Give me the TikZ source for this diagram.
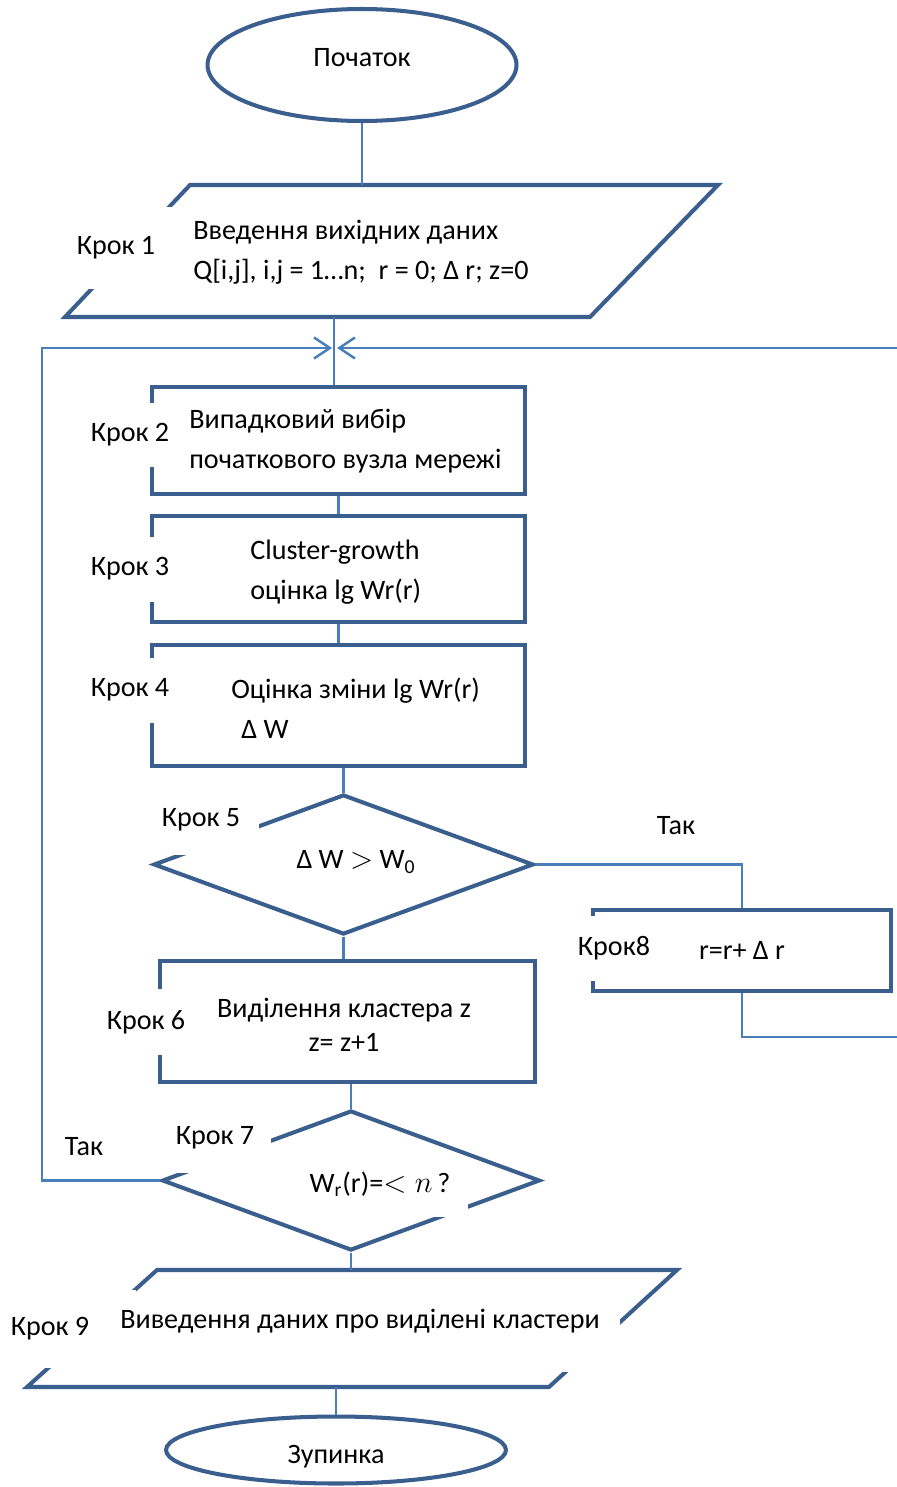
\documentclass[tikz,border=0pt]{standalone}
\usepackage{fontspec}
\setmainfont{Carlito}
\usetikzlibrary{shapes.geometric, arrows.meta}

\definecolor{ShapeLine}{HTML}{3A5E8E}
\definecolor{FlowLine}{HTML}{4A7EBB}

\tikzset{
    shape line/.style={draw=ShapeLine, line width=2.3pt},
    flow line/.style={draw=FlowLine, line width=1.4pt},
    loop arrow/.style={flow line, -{Straight Barb[length=9pt, width=12pt]}},
    terminal/.style={shape line, ellipse, inner sep=0pt},
    process/.style={shape line, rectangle, inner sep=0pt},
    decision/.style={shape line, diamond, inner sep=0pt},
    step label/.style={fill=white, inner sep=0pt},
    step text/.style={inner sep=0pt, align=left},
}

\begin{document}
\begin{tikzpicture}[x=0.02cm, y=-0.02cm, font=\fontsize{16}{22.5}\selectfont]

    \useasboundingbox (0,0) rectangle (896,1487);

    \node[terminal, minimum width=6.18cm, minimum height=2.24cm, text depth=0.32cm] (Start) at (362,65) {Початок};

    \coordinate (P1a) at (190,185);
    \coordinate (P1b) at (718,185);
    \coordinate (P1c) at (590,317);
    \coordinate (P1d) at (65,317);
    \coordinate (P1top) at (362,185);
    \coordinate (P1bot) at (334,317);
    \draw[shape line] (P1a) -- (P1b) -- (P1c) -- (P1d) -- cycle;

    \node[process, minimum width=7.46cm, minimum height=2.14cm] (S2) at (338.5,440.5) {};
    \node[process, minimum width=7.46cm, minimum height=2.12cm] (S3) at (338.5,569) {};
    \node[process, minimum width=7.46cm, minimum height=2.42cm] (S4) at (338.5,705.5) {};
    \node[decision, minimum width=7.6cm, minimum height=2.8cm] (C5) at (343.5,864.5) {};
    \node[process, minimum width=5.96cm, minimum height=1.62cm] (S8) at (742,950.5) {r=r+ Δ r};
    \node[process, minimum width=7.5cm, minimum height=2.42cm] (S6) at (347.5,1021.5) {};
    \node[decision, minimum width=7.56cm, minimum height=2.8cm] (C7) at (351,1180.5) {};

    \coordinate (P9a) at (157,1270);
    \coordinate (P9b) at (677,1270);
    \coordinate (P9c) at (549,1387);
    \coordinate (P9d) at (27,1387);
    \coordinate (P9top) at (351,1270);
    \coordinate (P9bot) at (336,1387);
    \draw[shape line] (P9a) -- (P9b) -- (P9c) -- (P9d) -- cycle;

    \node[terminal, minimum width=6.8cm, minimum height=1.34cm, text height=0.62cm] (Stop) at (336,1450) {Зупинка};

    \draw[flow line] (Start) -- (P1top);
    \draw[flow line] (P1bot) -- (P1bot |- S2.north);
    \draw[flow line] (S2) -- (S3);
    \draw[flow line] (S3) -- (S4);
    \draw[flow line] (C5.north |- S4.south) -- (C5.north);
    \draw[flow line] (C5.south) -- (C5.south |- S6.north);
    \draw[flow line] (C7.north |- S6.south) -- (C7.north);
    \draw[flow line] (C7.south) -- (P9top);
    \draw[flow line] (P9bot) -- (Stop);
    \draw[flow line] (C5.east) -| (S8.north);

    \coordinate (JoinL) at (332,348);
    \coordinate (JoinR) at (337,348);
    \coordinate (LoopL) at (42,348);
    \coordinate (LoopR) at (899,348);
    \coordinate (LoopRb) at (899,1037);
    \draw[loop arrow] (C7.west) -| (LoopL) -- (JoinL);
    \draw[loop arrow] (S8.south) |- (LoopRb) -- (LoopR) -- (JoinR);

    \node[step label, minimum width=2.4cm, minimum height=1.64cm] (K1) at (116,248) {Крок 1};
    \node[step label, minimum width=1.8cm, minimum height=1.3cm] (K2) at (130,435) {Крок 2};
    \node[step label, minimum width=1.8cm, minimum height=1.3cm] (K3) at (130,569) {Крок 3};
    \node[step label, minimum width=1.8cm, minimum height=1.3cm] (K4) at (130,690) {Крок 4};
    \node[step label, minimum width=2.32cm, minimum height=1.4cm] (K5) at (201,820) {Крок 5};
    \node[step label, minimum width=1.8cm, minimum height=1.32cm] (K6) at (146,1022) {Крок 6};
    \node[step label, minimum width=2.24cm, minimum height=1.4cm] (K7) at (215,1138) {Крок 7};
    \node[step label, minimum width=1.6cm, minimum height=1.3cm] (K8) at (614,948) {Крок8};
    \node[step label, minimum width=3.44cm, minimum height=1.56cm] (K9) at (50,1329) {Крок 9};

    \node[step text, anchor=west] (T1) at (193,252) {Введення вихідних даних\\Q[i,j], i,j = 1…n;\ \ r = 0;\ Δ r; z=0};
    \node[step text, anchor=west] (T2) at (189,441) {Випадковий вибір\\початкового вузла мережі};
    \node[step text, anchor=west] (T3) at (250,572) {Cluster-growth\\оцінка lg Wr(r)};
    \node[step text, anchor=west] (T4) at (231,708) {Оцінка зміни lg Wr(r)\\\hspace*{0.2cm}Δ W};
    \node[step text] (T5) at (356,862) {Δ W $>$ W\textsubscript{0}};
    \node[step text] (Yes5) at (676,826) {Так};
    \node[step text, align=center] (T6) at (344,1025) {Виділення кластера z\\[-0.1cm]z= z+1};
    \node[step text] (Yes7) at (84,1147) {Так};
    \node[fill=white, inner xsep=0.36cm, inner ysep=0pt, text height=0.5cm, text depth=0.5cm, anchor=base] (T7) at (380,1192) {W\textsubscript{r}(r)=$<n$\,?};
    \node[fill=white, inner xsep=0.4cm, inner ysep=0pt, text height=0.5cm, text depth=0.88cm, anchor=base] (T9) at (360,1328) {Виведення даних про виділені кластери};

\end{tikzpicture}
\end{document}
